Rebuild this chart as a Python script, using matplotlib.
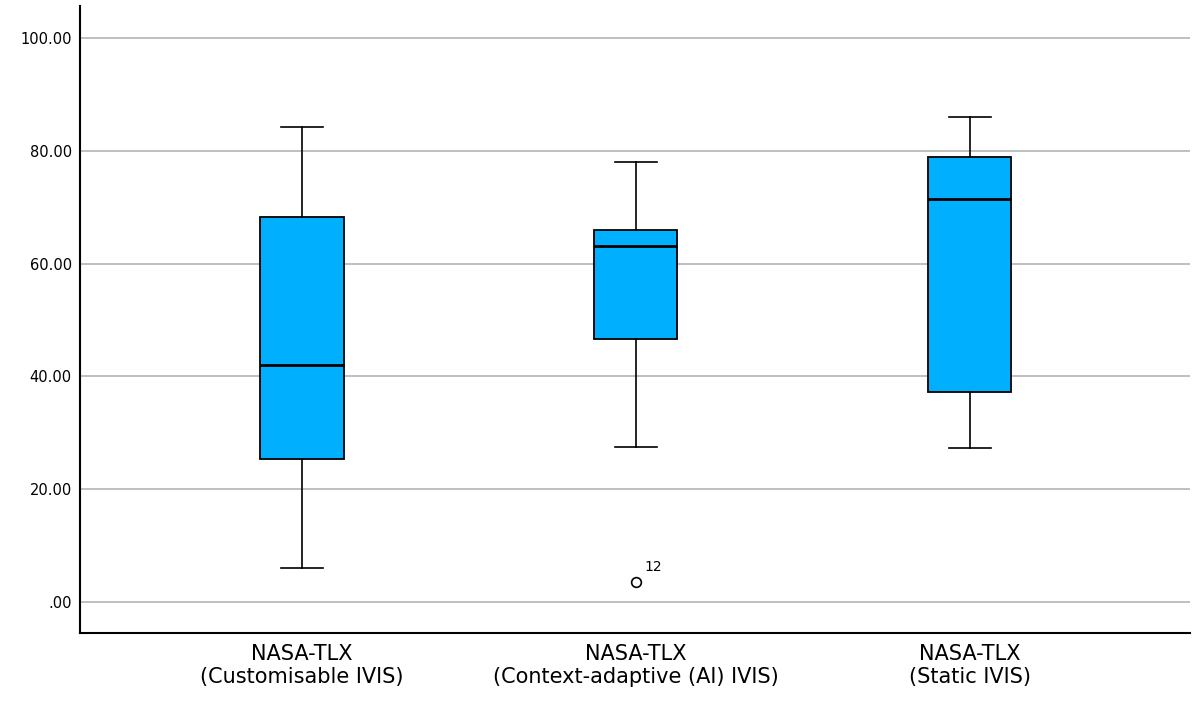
import numpy as np
import matplotlib
matplotlib.use('Agg')
from matplotlib import pyplot as plt


# values (box plot summary per condition)
labels = ['NASA-TLX\n(Customisable IVIS)',
          'NASA-TLX\n(Context-adaptive (AI) IVIS)',
          'NASA-TLX\n(Static IVIS)']
whisk_lo = [6.0, 27.5, 27.3]
q1 = [25.4, 46.6, 37.2]
med = [42.0, 63.1, 71.5]
q3 = [68.3, 66.0, 78.9]
whisk_hi = [84.2, 78.0, 86.0]
outliers = [[], [3.5], []]
outlier_ids = [[], ['12'], []]

yticks = [0, 20, 40, 60, 80, 100]
ytick_labels = ['.00', '20.00', '40.00', '60.00', '80.00', '100.00']

box_color = '#00B0FF'

stats = []
for i in range(len(labels)):
    stats.append({'whislo': whisk_lo[i], 'q1': q1[i], 'med': med[i],
                  'q3': q3[i], 'whishi': whisk_hi[i], 'fliers': outliers[i]})

fig = plt.figure(figsize=(12, 7.05), dpi=100)
ax = fig.add_axes([0.0667, 0.102, 0.925, 0.8895])

positions = np.arange(1, len(labels) + 1)
ax.bxp(stats, positions=positions, widths=0.25, patch_artist=True,
       boxprops=dict(facecolor=box_color, edgecolor='black', linewidth=1.3),
       medianprops=dict(color='black', linewidth=2),
       whiskerprops=dict(color='black', linewidth=1.2),
       capprops=dict(color='black', linewidth=1.2),
       capwidths=0.125,
       flierprops=dict(marker='o', markerfacecolor='white',
                       markeredgecolor='black', markersize=7, markeredgewidth=1.2))

# outlier case numbers
for i, (vals, ids) in enumerate(zip(outliers, outlier_ids)):
    for v, t in zip(vals, ids):
        ax.annotate(t, (positions[i], v), xytext=(6, 8), textcoords='offset points',
                    fontsize=10)

ax.set_xlim(0.336, 3.66)
ax.set_ylim(-5.5, 105.7)
ax.set_yticks(yticks)
ax.set_yticklabels(ytick_labels, fontsize=10.5)
ax.set_xticks(positions)
ax.set_xticklabels(labels, fontsize=15, linespacing=1.2)
ax.tick_params(axis='both', length=0, pad=6)
ax.tick_params(axis='x', pad=8)

ax.yaxis.grid(True, color='#b4b4b4', linewidth=1.2)
ax.set_axisbelow(True)
for s in ['top', 'right']:
    ax.spines[s].set_visible(False)
ax.spines['left'].set_linewidth(1.5)
ax.spines['bottom'].set_linewidth(1.5)

plt.savefig('out.png', dpi=100)
